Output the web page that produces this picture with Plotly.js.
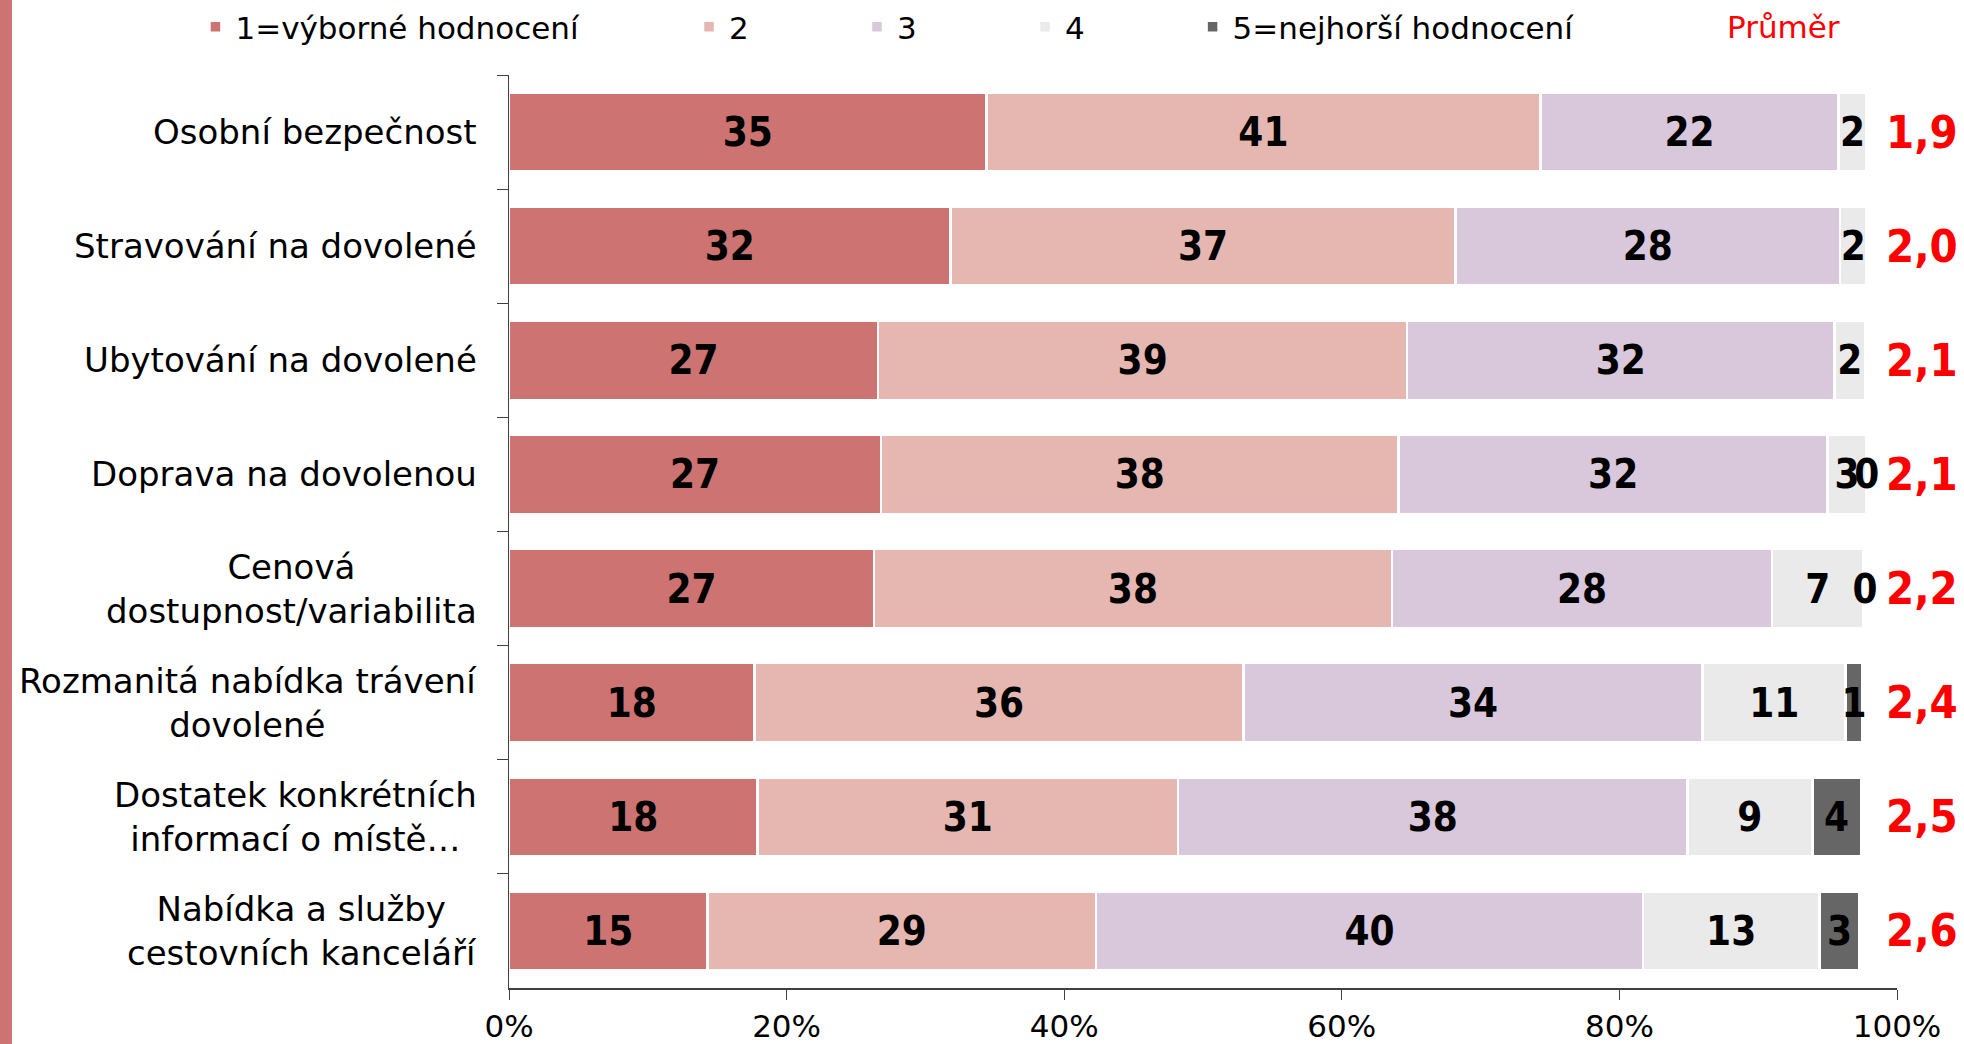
<!DOCTYPE html>
<html><head><meta charset="utf-8">
<script src="https://cdn.plot.ly/plotly-3.0.1.min.js"></script>
<style>html,body{margin:0;padding:0;background:#fff;}#chart{width:1964px;height:1044px;}</style>
</head><body><div id="chart"></div>
<script>
// ---- data ----
const categories = [
  'Osobní bezpečnost',
  'Stravování na dovolené',
  'Ubytování na dovolené',
  'Doprava na dovolenou',
  'Cenová<br>dostupnost/variabilita',
  'Rozmanitá nabídka trávení<br>dovolené',
  'Dostatek konkrétních<br>informací o místě…',
  'Nabídka a služby<br>cestovních kanceláří'
];
const seriesNames = ['1=výborné hodnocení', '2', '3', '4', '5=nejhorší hodnocení'];
// bar lengths (% of all respondents)
const s1 = [34.4, 31.8, 26.6, 26.8, 26.3, 17.7, 17.9, 14.3];
const s2 = [39.9, 36.4, 38.1, 37.3, 37.3, 35.2, 30.3, 28.0];
const s3 = [21.5, 27.7, 30.8, 30.9, 27.4, 33.1, 36.7, 39.4];
const s4 = [2.0, 1.9, 2.2, 2.8, 6.6, 10.3, 9.0, 12.7];
const s5 = [null, null, null, 0.05, 0.2, 1.2, 3.5, 2.9];
// printed labels
const l1 = [35, 32, 27, 27, 27, 18, 18, 15];
const l2 = [41, 37, 39, 38, 38, 36, 31, 29];
const l3 = [22, 28, 32, 32, 28, 34, 38, 40];
const l4 = [2, 2, 2, 3, 7, 11, 9, 13];
const l5 = [null, null, null, 0, 0, 1, 4, 3];
const means = [1.9, 2.0, 2.1, 2.1, 2.2, 2.4, 2.5, 2.6];
const meanTitle = 'Průměr';
const xTickVals = [0, 20, 40, 60, 80, 100];

// ---- styling ----
const FONT = 'DejaVu Sans, Verdana, sans-serif';
const BOLDFONT = 'DejaVu Sans Condensed, DejaVu Sans, sans-serif';
const colors = ['#CD7371', '#E6B7B1', '#D9C7DB', '#EAEAEA', '#666666'];
const values = [s1, s2, s3, s4, s5];
const labels = [l1, l2, l3, l4, l5];
const legendX = [-0.2259, 0.1297, 0.2507, 0.3718, 0.4925];
const legendY = 1.0526;

const traces = values.map((vals, k) => ({
  type: 'bar',
  orientation: 'h',
  name: seriesNames[k],
  y: categories,
  x: vals,
  text: labels[k].map(v => v === null ? '' : String(v)),
  textposition: 'inside',
  insidetextanchor: 'middle',
  constraintext: 'none',
  textangle: 0,
  textfont: {family: BOLDFONT, size: 40, color: '#000000', weight: 'bold'},
  marker: {color: colors[k], line: {color: '#FFFFFF', width: 2.5}},
  legend: k === 0 ? 'legend' : 'legend' + (k + 1),
  hoverinfo: 'x+y+name'
}));

const meanAnnotations = means.map((v, i) => ({
  xref: 'paper', yref: 'y', x: 1.0180, y: categories[i], xanchor: 'center', yanchor: 'middle',
  text: v.toFixed(1).replace('.', ','), showarrow: false,
  font: {family: BOLDFONT, size: 45, color: '#FF0000', weight: 'bold'}
}));

const categoryAnnotations = categories.map(c => ({
  xref: 'paper', yref: 'y', x: -0.0216, y: c, xanchor: 'right', yanchor: 'middle',
  text: c, showarrow: false, align: 'center',
  font: {family: FONT, size: 34, color: '#000000'}
}));

const layout = {
  width: 1964, height: 1044,
  margin: {l: 509, r: 67, t: 75, b: 56, pad: 0, autoexpand: false},
  paper_bgcolor: '#FFFFFF', plot_bgcolor: '#FFFFFF',
  barmode: 'stack',
  bargap: 0.307,
  font: {family: FONT, color: '#000000'},
  showlegend: true,
  xaxis: {
    range: [0, 100], tickvals: xTickVals, ticktext: xTickVals.map(v => v + '%'),
    ticks: 'outside', ticklen: 10, tickcolor: '#404040', tickwidth: 1,
    showline: true, linecolor: '#404040', linewidth: 1.5,
    showgrid: false, zeroline: false, automargin: false,
    tickfont: {family: FONT, size: 31, color: '#000000'}
  },
  yaxis: {
    type: 'category', autorange: 'reversed', tickson: 'boundaries',
    ticks: 'outside', ticklen: 11, tickcolor: '#404040', tickwidth: 1,
    showline: true, linecolor: '#404040', linewidth: 1.5, automargin: false,
    showgrid: false, zeroline: false, showticklabels: false
  },
  annotations: categoryAnnotations.concat(meanAnnotations).concat([{
    xref: 'paper', yref: 'paper', x: 0.8761, y: legendY, xanchor: 'left', yanchor: 'middle',
    text: meanTitle, showarrow: false, font: {family: FONT, size: 31, color: '#FF0000'}
  }]),
  shapes: [{
    type: 'rect', xref: 'paper', yref: 'paper', x0: -0.3667, x1: -0.3581, y0: -0.0613, y1: 1.0821,
    fillcolor: '#CD7371', line: {width: 0}
  }]
};
legendX.forEach((lx, k) => {
  layout[k === 0 ? 'legend' : 'legend' + (k + 1)] = {
    x: lx, y: legendY, xanchor: 'left', yanchor: 'middle', orientation: 'h',
    font: {family: FONT, size: 31, color: '#000000'}, bgcolor: 'rgba(0,0,0,0)',
    borderwidth: 0, itemclick: false, itemdoubleclick: false
  };
});

Plotly.newPlot('chart', traces, layout, {displayModeBar: false, staticPlot: true});
</script>
</body></html>
